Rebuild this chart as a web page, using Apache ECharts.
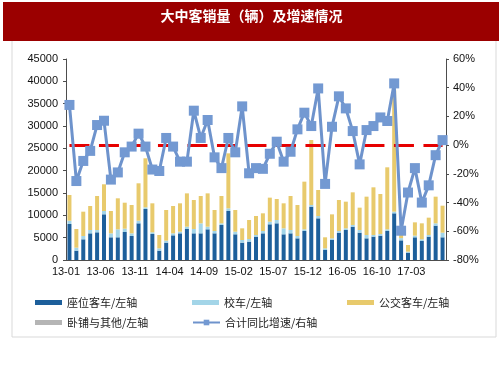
<!DOCTYPE html>
<html>
<head>
<meta charset="utf-8">
<script src="https://cdn.jsdelivr.net/npm/echarts/dist/echarts.min.js"></script>
<style>
  html, body { margin: 0; padding: 0; background: #fff; }
  #main { width: 503px; height: 378px; }
</style>
</head>
<body>
<div id="main"></div>
<script>
var months = ['13-01','13-02','13-03','13-04','13-05','13-06','13-07','13-08','13-09','13-10','13-11','13-12',
  '14-01','14-02','14-03','14-04','14-05','14-06','14-07','14-08','14-09','14-10','14-11','14-12',
  '15-01','15-02','15-03','15-04','15-05','15-06','15-07','15-08','15-09','15-10','15-11','15-12',
  '16-01','16-02','16-03','16-04','16-05','16-06','16-07','16-08','16-09','16-10','16-11','16-12',
  '17-01','17-02','17-03','17-04','17-05','17-06','17-07'];

// 座位客车
var seatBus = [8060, 2090, 4630, 5970, 6200, 10230, 5080, 5080, 6270, 5370, 8210, 11420,
  5820, 2090, 3880, 5520, 5970, 6940, 5970, 5970, 6870, 5970, 7840, 10970,
  5750, 3880, 4110, 5230, 5970, 7990, 8210, 5750, 5970, 4850, 6490, 11940,
  9330, 2240, 4480, 6120, 6720, 7460, 6120, 4850, 5230, 5450, 6490, 10450,
  4400, 1640, 5080, 4250, 5230, 7690, 5080];
// 校车
var schoolBus = [740, 670, 740, 750, 520, 740, 890, 1790, 740, 600, 590, 370,
  380, 520, 450, 450, 370, 520, 970, 2240, 590, 520, 370, 600,
  590, 600, 590, 370, 520, 590, 750, 1340, 750, 520, 380, 370,
  520, 370, 370, 370, 370, 380, 600, 750, 370, 370, 380, 370,
  500, 230, 370, 380, 370, 520, 1040];
// 公交客车
var cityBus = [5750, 4180, 5450, 5370, 7610, 5980, 5000, 6940, 5820, 6340, 8370, 10980,
  6490, 2990, 6870, 6120, 6350, 7460, 6490, 6120, 7460, 4710, 6120, 12310,
  4860, 2610, 4260, 4250, 3960, 5380, 4700, 5600, 7610, 6940, 10670, 14550,
  5820, 2470, 5370, 6940, 5970, 7310, 5000, 8580, 10670, 8960, 13880, 27180,
  2600, 1490, 2980, 3580, 3880, 5970, 6040];
// 卧铺与其他
var sleeperOther = [0, 0, 0, 0, 0, 0, 0, 0, 0, 0, 0, 0,
  0, 0, 0, 0, 0, 0, 0, 0, 0, 0, 0, 0,
  0, 0, 0, 0, 0, 0, 0, 0, 0, 0, 0, 0,
  0, 0, 0, 0, 0, 0, 0, 0, 0, 0, 0, 0,
  0, 0, 0, 0, 0, 0, 0];
// 合计同比增速 (%)
var growth = [28, -25, -11, -4, 14, 17, -24, -19, -5, -1, 8, -1,
  -17, -18, 5, -1, -11.5, -11.5, 24, 5, 17.5, -8.5, -16, 5,
  -5, 27, -19.6, -16, -16.5, -6, 2.4, -11.5, -4.6, 11, 22.6, 13.3,
  39.5, -27, 12.8, 34, 25.6, 9.8, -13.4, 10.5, 13.3, 19.3, 16.8, 43,
  -59.6, -33, -16, -40, -28, -7, 3.5];

var leftTicks = [0, 45000, 5000];
var rightTicks = [-80, 60, 20];

(function () {
  var myChart = echarts.init(document.getElementById('main'));
  var colors = ['#1d5f9b', '#a3d5e8', '#e8ca6c', '#b5b5b5', '#7398d1'];
  var font = "'Liberation Sans', Arial, sans-serif";
  var cjk = "'Noto Sans CJK SC', sans-serif";
  var axisColor = '#4d4d4d';

  function legendItem(name, left, top, icon, h) {
    return {
      data: [{ name: name, icon: icon }],
      left: left,
      top: top,
      itemWidth: 27,
      itemHeight: h,
      padding: 0,
      textStyle: { fontFamily: cjk, fontSize: 11, color: '#222' }
    };
  }

  var option = {
    animation: false,
    color: colors,
    graphic: [
      {
        type: 'rect',
        shape: { x: 3, y: 2, width: 496, height: 39 },
        style: { fill: '#9b0000' },
        silent: true
      },
      {
        type: 'polyline',
        shape: { points: [[12, 41], [12, 337], [496, 337], [496, 41]] },
        style: { stroke: '#d9d9d9', fill: null, lineWidth: 1 },
        silent: true
      }
    ],
    title: {
      text: '大中客销量（辆）及增速情况',
      left: 'center',
      top: 4,
      textStyle: { color: '#fff', fontSize: 14, fontWeight: 'bold', fontFamily: cjk }
    },
    legend: [
      legendItem('座位客车/左轴', 35, 297, 'rect', 5),
      legendItem('校车/左轴', 192, 297, 'rect', 5),
      legendItem('公交客车/左轴', 347, 297, 'rect', 5),
      legendItem('卧铺与其他/左轴', 35, 317, 'rect', 5),
      legendItem('合计同比增速/右轴', 192, 317, null, 7)
    ],
    grid: {
      left: 66,
      right: 57,
      top: 59,
      bottom: 118
    },
    xAxis: {
      type: 'category',
      data: months,
      boundaryGap: true,
      axisLine: { lineStyle: { color: axisColor } },
      axisTick: { interval: 4, length: 3, lineStyle: { color: axisColor } },
      axisLabel: {
        interval: 4,
        fontFamily: font,
        fontSize: 11,
        color: '#111',
        margin: 6,
        padding: [0, 7, 0, 0]
      }
    },
    yAxis: [
      {
        type: 'value',
        min: leftTicks[0],
        max: leftTicks[1],
        interval: leftTicks[2],
        splitLine: { show: false },
        axisLine: { show: true, lineStyle: { color: axisColor } },
        axisTick: { show: true, length: 3, lineStyle: { color: axisColor } },
        axisLabel: {
          fontFamily: font, fontSize: 11, color: '#111', margin: 8,
          formatter: function (v) { return String(v); }
        }
      },
      {
        type: 'value',
        min: rightTicks[0],
        max: rightTicks[1],
        interval: rightTicks[2],
        position: 'right',
        splitLine: { show: false },
        axisLine: { show: true, lineStyle: { color: axisColor } },
        axisTick: { show: true, length: 3, lineStyle: { color: axisColor } },
        axisLabel: { formatter: '{value}%', fontFamily: font, fontSize: 11, color: '#111', margin: 7 }
      }
    ],
    series: [
      {
        name: '座位客车/左轴',
        type: 'bar',
        stack: 'total',
        barWidth: 4,
        data: seatBus
      },
      {
        name: '校车/左轴',
        type: 'bar',
        stack: 'total',
        barWidth: 4,
        data: schoolBus
      },
      {
        name: '公交客车/左轴',
        type: 'bar',
        stack: 'total',
        barWidth: 4,
        data: cityBus
      },
      {
        name: '卧铺与其他/左轴',
        type: 'bar',
        stack: 'total',
        barWidth: 4,
        data: sleeperOther
      },
      {
        name: '合计同比增速/右轴',
        type: 'line',
        yAxisIndex: 1,
        z: 5,
        symbol: 'rect',
        symbolSize: 10,
        showAllSymbol: true,
        lineStyle: { width: 3, color: '#6e93cc' },
        itemStyle: { color: '#7399d2' },
        data: growth,
        markLine: {
          silent: true,
          symbol: 'none',
          label: { show: false },
          lineStyle: { color: '#e60000', width: 3, type: [20, 9.5] },
          data: [[{ coord: [0, 0] }, { coord: [54, 0] }]]
        }
      }
    ]
  };

  myChart.setOption(option);
  window.addEventListener('resize', function () {
    myChart.resize();
  });
})();
</script>
</body>
</html>
